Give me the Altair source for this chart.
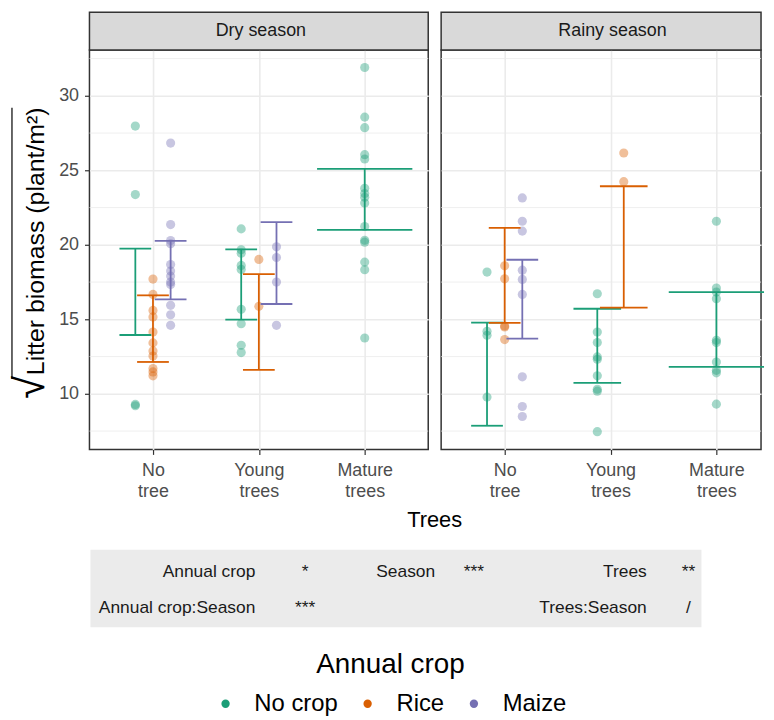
import json
import altair as alt
import pandas as pd

# ---------------- data ----------------
seasons = ["Dry season", "Rainy season"]
trees = ["No tree", "Young trees", "Mature trees"]
crops = ["No crop", "Rice", "Maize"]
crop_colors = ["#1B9E77", "#D95F02", "#7570B3"]

dry_notree_nocrop = [27.97, 23.37, 9.29, 9.20]
dry_notree_rice = [17.70, 16.67, 15.60, 15.16, 14.15, 13.42, 12.88, 12.54, 11.70, 11.47, 11.21]
dry_notree_maize = [26.83, 21.36, 20.29, 20.07, 18.68, 18.24, 17.90, 17.50, 17.34, 15.94, 15.31, 14.60]
dry_young_nocrop = [21.07, 19.67, 19.44, 18.62, 18.35, 15.67, 14.71, 13.26, 12.77]
dry_young_rice = [19.02, 15.87]
dry_young_maize = [19.87, 19.15, 17.50, 14.60]
dry_mature_nocrop = [31.90, 28.57, 27.86, 26.05, 25.76, 23.79, 23.44, 23.19, 22.81,
                     21.23, 20.31, 20.18, 18.84, 18.33, 13.75]
rainy_notree_nocrop = [18.17, 14.20, 13.93, 9.78]
rainy_notree_rice = [18.59, 17.72, 14.55, 14.49, 13.64]
rainy_notree_maize = [23.15, 21.58, 20.92, 18.30, 17.68, 16.67, 11.14, 9.15, 8.48]
rainy_young_nocrop = [16.72, 14.15, 13.44, 12.48, 12.32, 11.21, 10.31, 10.18, 7.46]
rainy_young_rice = [26.16, 24.24]
rainy_mature_nocrop = [21.58, 17.10, 16.83, 16.38, 13.59, 13.44, 12.14, 11.58, 11.41, 9.31]

group_season = ["Dry season"] * 7 + ["Rainy season"] * 6
group_tree = ["No tree", "No tree", "No tree", "Young trees", "Young trees", "Young trees", "Mature trees",
              "No tree", "No tree", "No tree", "Young trees", "Young trees", "Mature trees"]
group_crop = ["No crop", "Rice", "Maize", "No crop", "Rice", "Maize", "No crop",
              "No crop", "Rice", "Maize", "No crop", "Rice", "No crop"]
group_values = [dry_notree_nocrop, dry_notree_rice, dry_notree_maize,
                dry_young_nocrop, dry_young_rice, dry_young_maize, dry_mature_nocrop,
                rainy_notree_nocrop, rainy_notree_rice, rainy_notree_maize,
                rainy_young_nocrop, rainy_young_rice, rainy_mature_nocrop]
err_low = [13.95, 12.14, 16.34, 14.98, 11.61, 16.03, 21.00, 7.86, 14.76, 13.71, 10.74, 15.78, 11.81]
err_high = [19.75, 16.61, 20.27, 19.69, 18.04, 21.52, 25.09, 14.78, 21.14, 19.00, 15.71, 23.93, 16.83]

y_ticks = [10, 15, 20, 25, 30]
y_minor = [7.5, 12.5, 17.5, 22.5, 27.5, 32.5]

table_terms = ["Annual crop", "Season", "Trees", "Annual crop:Season", "Trees:Season"]
table_signif = ["*", "***", "**", "***", "/"]
table_row = [0, 0, 0, 1, 1]
table_col = [0, 1, 2, 0, 2]

# ---------------- layout constants ----------------
W = 341            # full panel width (dry season)
W2 = 322           # visible part of the rainy-season panel (cut at the right edge)
H = 402
STRIP = 38
DODGE = 0.5
CAP = 0.9
FONT = "Liberation Sans"
col_label_right = [167, 348, 561]
col_star_center = [217, 387, 603]
row_y = [525, 562]

# ---------------- derived tables ----------------
pts_rows, err_rows = [], []
for i in range(len(group_season)):
    s, t, c = group_season[i], group_tree[i], group_crop[i]
    present = [group_crop[j] for j in range(len(group_season))
               if group_season[j] == s and group_tree[j] == t]
    present = sorted(present, key=crops.index)
    n = len(present)
    k = present.index(c)
    xc = trees.index(t) + 1 + (k - (n - 1) / 2) * DODGE / n
    hw = CAP / n / 2
    for v in group_values[i]:
        pts_rows.append({"season": s, "crop": c, "x": xc, "y": v})
    err_rows.append({"season": s, "crop": c, "x": xc, "xl": xc - hw, "xr": xc + hw,
                     "lo": err_low[i], "hi": err_high[i]})
pts = pd.DataFrame(pts_rows)
errs = pd.DataFrame(err_rows)

table_df = pd.DataFrame({
    "term": table_terms, "signif": table_signif,
    "lx": [col_label_right[c] for c in table_col],
    "sx": [col_star_center[c] for c in table_col],
    "ty": [row_y[r] for r in table_row],
})

label_lines = [t.split(" ") for t in trees]
label_expr = json.dumps(label_lines) + "[datum.value - 1]"

yscale = alt.Scale(domain=[6.27, 33.07], nice=False, zero=False)
cscale = alt.Scale(domain=crops, range=crop_colors)

xaxis = alt.Axis(values=[1, 2, 3], labelExpr=label_expr, grid=True, gridColor="#EBEBEB",
                 gridWidth=1.6, domain=False, tickColor="#333333", tickSize=5, tickWidth=1.2,
                 labelFontSize=18, labelColor="#4D4D4D", labelPadding=7, labelLineHeight=21,
                 labelFont=FONT, title=None)


def yaxis(show):
    if show:
        return alt.Axis(values=y_ticks, grid=True, gridColor="#EBEBEB", gridWidth=1.6, domain=False,
                        tickColor="#333333", tickSize=5, tickWidth=1.2, labelFontSize=18,
                        labelColor="#4D4D4D", labelPadding=6, labelFont=FONT,
                        title="Litter biomass (plant/m\u00b2)", titleFontSize=25,
                        titleFontWeight="normal", titleColor="black", titleFont=FONT,
                        titlePadding=10, titleY=192)
    return alt.Axis(values=y_ticks, grid=True, gridColor="#EBEBEB", gridWidth=1.6, domain=False,
                    ticks=False, labels=False, title=None, minExtent=0, maxExtent=0)


legend = alt.Legend(orient="none", legendX=125, legendY=605, direction="horizontal",
                    titleFontSize=28, titleFontWeight="normal", titleColor="black", titleFont=FONT,
                    titleOrient="top", titleAnchor="middle", titlePadding=13,
                    labelFontSize=24, labelColor="black", labelFont=FONT, labelOffset=17,
                    columnPadding=17, symbolSize=70, symbolType="circle", symbolOpacity=1,
                    symbolStrokeWidth=0, padding=0)


def panel(season, first):
    width = W if first else W2
    xmax = 0.4 + 3.2 * width / W
    xscale = alt.Scale(domain=[0.4, xmax], nice=False, zero=False)
    ya = yaxis(first)
    p = pts[pts.season == season]
    e = errs[errs.season == season]

    minor = alt.Chart(pd.DataFrame({"y": y_minor})).mark_rule(
        color="#EBEBEB", strokeWidth=0.8).encode(
        y=alt.Y("y:Q", scale=yscale, axis=ya), x=alt.value(0), x2=alt.value(width))

    points = alt.Chart(p).mark_circle(size=85, opacity=0.4).encode(
        x=alt.X("x:Q", scale=xscale, axis=xaxis),
        y=alt.Y("y:Q", scale=yscale, axis=ya),
        color=alt.Color("crop:N", scale=cscale, title="Annual crop",
                        legend=legend if first else None))

    ebase = alt.Chart(e)
    vline = ebase.mark_rule(strokeWidth=1.8).encode(
        x=alt.X("x:Q", scale=xscale, axis=xaxis),
        y=alt.Y("lo:Q", scale=yscale, axis=ya), y2="hi:Q",
        color=alt.Color("crop:N", scale=cscale, legend=None))
    cap_hi = ebase.mark_rule(strokeWidth=1.8).encode(
        x=alt.X("xl:Q", scale=xscale, axis=xaxis), x2="xr:Q",
        y=alt.Y("hi:Q", scale=yscale, axis=ya),
        color=alt.Color("crop:N", scale=cscale, legend=None))
    cap_lo = ebase.mark_rule(strokeWidth=1.8).encode(
        x=alt.X("xl:Q", scale=xscale, axis=xaxis), x2="xr:Q",
        y=alt.Y("lo:Q", scale=yscale, axis=ya),
        color=alt.Color("crop:N", scale=cscale, legend=None))

    sdf = pd.DataFrame({"season": [season]})
    strip_rect = alt.Chart(sdf).mark_rect(fill="#D9D9D9", stroke="#333333", strokeWidth=1.5).encode(
        x=alt.value(0), x2=alt.value(width), y=alt.value(-STRIP), y2=alt.value(0))
    strip_text = alt.Chart(sdf).mark_text(fontSize=18, color="#1A1A1A", font=FONT,
                                          baseline="middle", align="center").encode(
        text="season:N", x=alt.value(W / 2 + 2), y=alt.value(-STRIP / 2))

    layers = [minor, points, vline, cap_hi, cap_lo, strip_rect, strip_text]

    if first:
        root = alt.Chart(pd.DataFrame({"t": ["\u221a"]})).mark_text(
            fontSize=42, color="black", font=FONT, angle=270, align="left",
            baseline="alphabetic").encode(
            text="t:N", x=alt.value(-46), y=alt.value(351))
        over = alt.Chart(pd.DataFrame({"a": [0]})).mark_rule(color="black", strokeWidth=1.2).encode(
            x=alt.value(-78), y=alt.value(58), y2=alt.value(331))
        xtitle = alt.Chart(pd.DataFrame({"t": ["Trees"]})).mark_text(
            fontSize=22, color="black", font=FONT, baseline="middle", align="center").encode(
            text="t:N", x=alt.value(W + 6.5), y=alt.value(473))
        tbox = alt.Chart(pd.DataFrame({"a": [0]})).mark_rect(fill="#EBEBEB").encode(
            x=alt.value(1), x2=alt.value(616), y=alt.value(503), y2=alt.value(581))
        tlabels = alt.Chart(table_df).mark_text(fontSize=17.5, color="#1A1A1A", font=FONT,
                                                align="right", baseline="middle").encode(
            x=alt.X("lx:Q", scale=None, axis=None), y=alt.Y("ty:Q", scale=None, axis=None),
            text="term:N")
        tstars = alt.Chart(table_df).mark_text(fontSize=17.5, color="#1A1A1A", font=FONT,
                                               align="center", baseline="middle").encode(
            x=alt.X("sx:Q", scale=None, axis=None), y=alt.Y("ty:Q", scale=None, axis=None),
            text="signif:N")
        layers += [root, over, xtitle, tbox, tlabels, tstars]

    return alt.layer(*layers).properties(width=width, height=H)


chart = alt.hconcat(panel("Dry season", True), panel("Rainy season", False),
                    spacing=13, bounds="flush").properties(
    padding={"left": 1, "top": 0, "right": 0, "bottom": 0},
    background="white",
).configure(font=FONT).configure_view(stroke="#333333", strokeWidth=1.5, fill="white")

chart.save("out.html", embed_options={"renderer": "svg", "actions": False})
